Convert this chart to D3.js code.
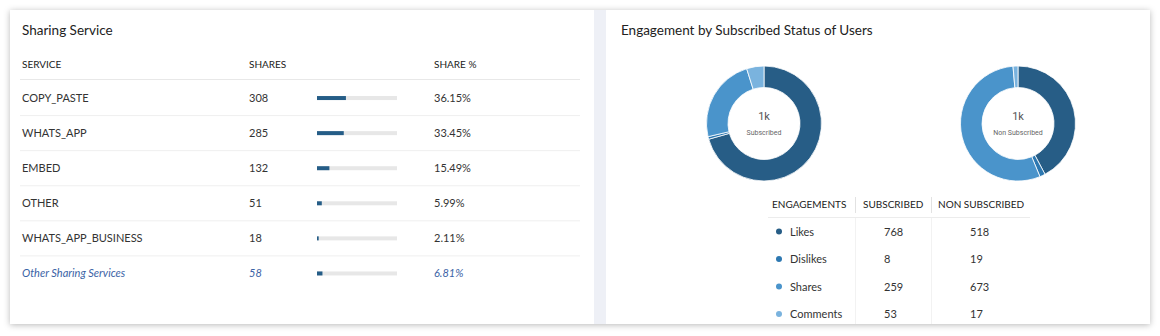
<!DOCTYPE html>
<html><head><meta charset="utf-8">
<script src="https://cdn.jsdelivr.net/npm/d3@7"></script>
<style>
html,body{margin:0;padding:0;background:#fff;}
svg{display:block;font-family:Lato,"Open Sans",sans-serif;}
</style></head>
<body>
<svg id="c" width="1160" height="336"></svg>
<script>
// ---- data ----
const services = ["COPY_PASTE","WHATS_APP","EMBED","OTHER","WHATS_APP_BUSINESS","Other Sharing Services"];
const shares = [308,285,132,51,18,58];
const sharePct = [36.15,33.45,15.49,5.99,2.11,6.81];
const serviceHeaders = ["SERVICE","SHARES","SHARE %"];

const engagements = ["Likes","Dislikes","Shares","Comments"];
const subscribed = [768,8,259,53];
const nonSubscribed = [518,19,673,17];
const donutLabels = ["Subscribed","Non Subscribed"];
const engHeaders = ["ENGAGEMENTS","SUBSCRIBED","NON SUBSCRIBED"];
const engColors = ["#275d86","#2d78b1","#4a94cb","#7ab3de"];

const svg = d3.select("#c");
const defs = svg.append("defs");
const f = defs.append("filter").attr("id","sh").attr("x","-5%").attr("y","-10%").attr("width","110%").attr("height","120%");
f.append("feDropShadow").attr("dx",0).attr("dy",1).attr("stdDeviation",3).attr("flood-color","#000").attr("flood-opacity",0.28);

svg.append("rect").attr("x",10).attr("y",10).attr("width",1140).attr("height",314).attr("fill","#fff").attr("filter","url(#sh)");
svg.append("rect").attr("x",594).attr("y",10).attr("width",12).attr("height",314).attr("fill","#eef0f6");

// ---- left panel ----
const L = svg.append("g");
L.append("text").attr("x",22).attr("y",35).attr("font-size",13.5).attr("fill","#222").text("Sharing Service");

const colX = [22,249,434];
L.selectAll("text.h").data(serviceHeaders).join("text").attr("class","h")
  .attr("x",(d,i)=>colX[i]).attr("y",68).attr("font-size",10).attr("fill","#222").text(d=>d);

const y = d3.scaleBand().domain(services).range([80,290.5]).padding(0);
const bx = d3.scaleLinear().domain([0,100]).range([317,397]);

L.append("line").attr("x1",20).attr("x2",580).attr("y1",79.5).attr("y2",79.5).attr("stroke","#e8e8e8");
services.forEach((s,i)=>{
  const cy = y(s)+y.bandwidth()/2;
  const last = i===services.length-1;
  const col = last? "#3b63a6" : "#333";
  const g = L.append("g").attr("font-size",11).attr("fill",col).attr("font-style",last?"italic":"normal");
  g.append("text").attr("x",colX[0]).attr("y",cy+4).text(s);
  g.append("text").attr("x",colX[1]).attr("y",cy+4).text(shares[i]);
  g.append("text").attr("x",colX[2]).attr("y",cy+4).text(sharePct[i].toFixed(2)+"%");
  L.append("rect").attr("x",bx(0)).attr("y",cy-1.5).attr("width",bx(100)-bx(0)).attr("height",4).attr("fill","#e7e7e7");
  L.append("rect").attr("x",bx(0)).attr("y",cy-1.5).attr("width",Math.max(1.5,bx(sharePct[i])-bx(0))).attr("height",4).attr("fill","#255d87");
  if(!last) L.append("line").attr("x1",20).attr("x2",580).attr("y1",y(s)+y.bandwidth()+0.5).attr("y2",y(s)+y.bandwidth()+0.5).attr("stroke","#efefef");
});

// ---- right panel ----
const R = svg.append("g");
R.append("text").attr("x",621).attr("y",35).attr("font-size",13.5).attr("fill","#222").text("Engagement by Subscribed Status of Users");

const pie = d3.pie().sort(null).value(d=>d);
const arc = d3.arc().innerRadius(36).outerRadius(57.5);
const color = d3.scaleOrdinal().domain(engagements).range(engColors);
const centers = [[764,123.5],[1018,123.5]];
[subscribed, nonSubscribed].forEach((vals,k)=>{
  const g = R.append("g").attr("transform",`translate(${centers[k][0]},${centers[k][1]})`);
  g.selectAll("path").data(pie(vals)).join("path").attr("d",arc)
    .attr("fill",(d,i)=>color(engagements[i])).attr("stroke","#fff").attr("stroke-width",0.8);
  const tot = d3.sum(vals);
  g.append("text").attr("text-anchor","middle").attr("y",-4).attr("font-family","Roboto,'Open Sans',sans-serif").attr("font-size",11).attr("fill","#555").text(d3.format(".1s")(tot).replace("k","k"));
  g.append("text").attr("text-anchor","middle").attr("y",11).attr("font-family","Roboto,'Open Sans',sans-serif").attr("font-size",7).attr("fill","#666").text(donutLabels[k]);
});

const hx = [772,863,938];
R.selectAll("text.eh").data(engHeaders).join("text").attr("class","eh")
  .attr("x",(d,i)=>hx[i]).attr("y",208).attr("font-size",10).attr("fill","#222").text(d=>d);
[855.5,931.5].forEach(x=>{
  R.append("line").attr("x1",x).attr("x2",x).attr("y1",197).attr("y2",213).attr("stroke","#e2e2e2");
  R.append("line").attr("x1",x).attr("x2",x).attr("y1",218).attr("y2",324).attr("stroke","#f2f2f2");
});
R.append("line").attr("x1",768).attr("x2",1030).attr("y1",217.5).attr("y2",217.5).attr("stroke","#ececec");

const ey = d3.scalePoint().domain(engagements).range([231.5,314]);
engagements.forEach((e,i)=>{
  const cy = ey(e);
  R.append("circle").attr("cx",779).attr("cy",cy).attr("r",3).attr("fill",color(e));
  R.append("text").attr("x",790).attr("y",cy+4).attr("font-size",11).attr("fill","#333").text(e);
  R.append("text").attr("x",884).attr("y",cy+4).attr("font-size",11).attr("fill","#333").text(subscribed[i]);
  R.append("text").attr("x",970).attr("y",cy+4).attr("font-size",11).attr("fill","#333").text(nonSubscribed[i]);
});
</script>
</body></html>
